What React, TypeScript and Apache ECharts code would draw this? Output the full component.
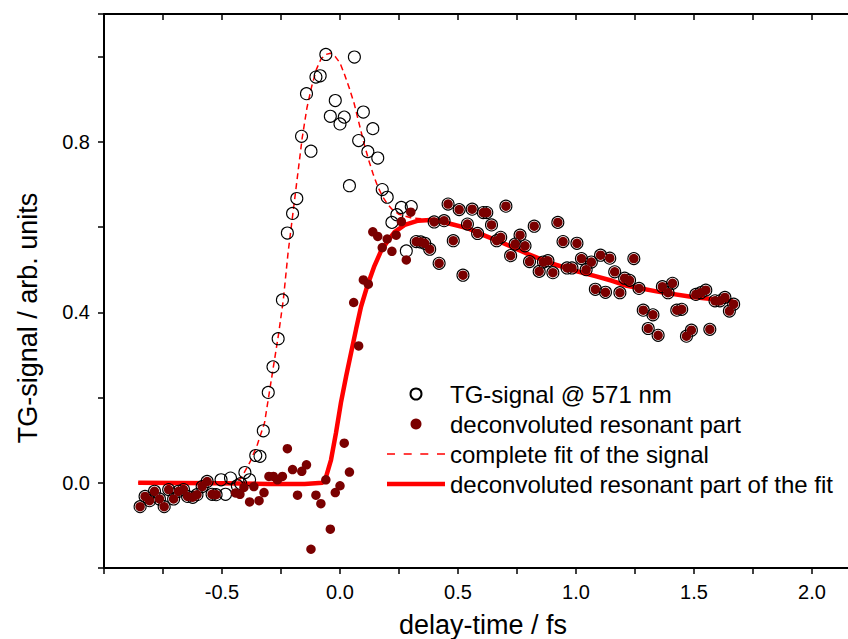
import React, { useEffect, useRef } from "react";
import * as echarts from "echarts";

// ---- data (x = delay-time / fs, y = signal) ----
const commonLeft: number[][] = [
  [-0.847, -0.056], [-0.826, -0.032], [-0.807, -0.042], [-0.786, -0.02], [-0.765, -0.038],
  [-0.745, -0.056], [-0.726, -0.016], [-0.705, -0.038], [-0.684, -0.02], [-0.663, -0.016],
  [-0.646, -0.032], [-0.624, -0.034], [-0.606, -0.028], [-0.584, -0.009], [-0.563, 0.003],
  [-0.542, -0.027], [-0.525, -0.028],
];

const signalOnly: number[][] = [
  [-0.504, 0.007], [-0.485, -0.027], [-0.464, 0.011], [-0.435, -0.007], [-0.421, -0.002],
  [-0.403, 0.024], [-0.383, 0.007], [-0.357, 0.064], [-0.339, 0.062], [-0.325, 0.122],
  [-0.304, 0.212], [-0.284, 0.272], [-0.262, 0.338], [-0.244, 0.429], [-0.223, 0.586],
  [-0.201, 0.632], [-0.183, 0.667], [-0.163, 0.813], [-0.142, 0.913], [-0.123, 0.778],
  [-0.102, 0.952], [-0.084, 0.955], [-0.06, 1.005], [-0.041, 0.86], [-0.02, 0.897],
  [0.0, 0.842], [0.018, 0.858], [0.04, 0.697], [0.061, 0.999], [0.079, 0.803],
  [0.099, 0.87], [0.118, 0.777], [0.139, 0.831], [0.16, 0.762], [0.179, 0.688],
  [0.2, 0.67], [0.22, 0.611], [0.241, 0.629], [0.26, 0.646], [0.281, 0.544], [0.302, 0.648],
];

const deconvOnly: number[][] = [
  [-0.443, -0.024], [-0.424, -0.027], [-0.407, -0.011], [-0.383, -0.045], [-0.365, -0.009],
  [-0.343, -0.042], [-0.322, -0.023], [-0.301, 0.015], [-0.282, 0.015], [-0.265, 0.007],
  [-0.244, 0.015], [-0.223, 0.08], [-0.201, 0.031], [-0.18, -0.029], [-0.162, 0.027],
  [-0.142, 0.042], [-0.123, -0.156], [-0.102, -0.029], [-0.081, -0.049], [-0.06, 0.007],
  [-0.041, -0.109], [-0.02, -0.023], [0.0, -0.007], [0.018, 0.093], [0.04, 0.025],
  [0.058, 0.423], [0.079, 0.321], [0.099, 0.476], [0.12, 0.466], [0.139, 0.589],
  [0.16, 0.578], [0.179, 0.552], [0.2, 0.572], [0.22, 0.543], [0.238, 0.581],
  [0.26, 0.613], [0.281, 0.523], [0.3, 0.635],
];

const commonRight: number[][] = [
  [0.323, 0.566], [0.342, 0.565], [0.359, 0.562], [0.38, 0.548], [0.399, 0.612],
  [0.42, 0.515], [0.441, 0.615], [0.458, 0.654], [0.48, 0.568], [0.505, 0.641],
  [0.521, 0.487], [0.54, 0.607], [0.56, 0.642], [0.583, 0.585], [0.607, 0.634],
  [0.622, 0.634], [0.642, 0.605], [0.664, 0.568], [0.681, 0.576], [0.703, 0.649],
  [0.723, 0.533], [0.742, 0.56], [0.763, 0.581], [0.784, 0.556], [0.803, 0.519],
  [0.823, 0.602], [0.844, 0.496], [0.862, 0.518], [0.881, 0.521], [0.902, 0.493],
  [0.923, 0.611], [0.945, 0.566], [0.962, 0.504], [0.983, 0.504], [1.004, 0.562],
  [1.023, 0.526], [1.043, 0.5], [1.065, 0.518], [1.082, 0.454], [1.104, 0.534],
  [1.125, 0.447], [1.143, 0.527], [1.164, 0.495], [1.186, 0.446], [1.206, 0.48],
  [1.227, 0.475], [1.245, 0.526], [1.267, 0.456], [1.285, 0.405], [1.306, 0.362],
  [1.326, 0.394], [1.348, 0.346], [1.366, 0.46], [1.39, 0.446], [1.409, 0.468],
  [1.427, 0.405], [1.448, 0.407], [1.468, 0.344], [1.489, 0.358], [1.508, 0.442],
  [1.529, 0.446], [1.55, 0.452], [1.567, 0.36], [1.589, 0.427], [1.61, 0.427],
  [1.631, 0.435], [1.65, 0.403], [1.668, 0.419],
];

const resonantFit: number[][] = [
  [-0.855, 0.0], [-0.5, -0.001], [-0.3, -0.003], [-0.15, -0.003], [-0.074, 0.0],
  [-0.06, 0.012], [-0.038, 0.054], [-0.017, 0.117], [0.004, 0.188], [0.026, 0.25],
  [0.047, 0.305], [0.068, 0.36], [0.089, 0.413], [0.118, 0.466], [0.146, 0.509],
  [0.174, 0.544], [0.203, 0.568], [0.231, 0.588], [0.274, 0.605], [0.331, 0.615],
  [0.4, 0.617], [0.458, 0.609], [0.543, 0.597], [0.6, 0.583], [0.685, 0.564],
  [0.8, 0.536], [0.9, 0.514], [1.0, 0.497], [1.082, 0.485], [1.153, 0.474],
  [1.21, 0.463], [1.352, 0.448], [1.494, 0.436], [1.664, 0.426],
];

const completeFit: number[][] = [
  [-0.855, 0.0], [-0.5, 0.0], [-0.45, 0.002], [-0.42, 0.01], [-0.38, 0.05],
  [-0.35, 0.09], [-0.32, 0.14], [-0.3, 0.21], [-0.28, 0.28], [-0.26, 0.35],
  [-0.24, 0.43], [-0.22, 0.54], [-0.2, 0.63], [-0.18, 0.72], [-0.16, 0.81],
  [-0.14, 0.88], [-0.12, 0.93], [-0.1, 0.97], [-0.08, 0.995], [-0.06, 1.005],
  [-0.04, 1.008], [-0.02, 1.0], [0.0, 0.985], [0.02, 0.957], [0.04, 0.925],
  [0.06, 0.89], [0.08, 0.845], [0.1, 0.8], [0.12, 0.76], [0.14, 0.725],
  [0.16, 0.695], [0.18, 0.672], [0.2, 0.655], [0.22, 0.642], [0.25, 0.63],
  [0.3, 0.622], [0.35, 0.619], [0.4, 0.617], [0.458, 0.609], [0.543, 0.597],
  [0.6, 0.583], [0.685, 0.564], [0.8, 0.536], [0.9, 0.514], [1.0, 0.497],
  [1.082, 0.485], [1.153, 0.474], [1.21, 0.463], [1.352, 0.448], [1.494, 0.436],
  [1.664, 0.426],
];

const seriesNames = [
  "TG-signal @ 571 nm",
  "deconvoluted resonant part",
  "complete fit of the signal",
  "deconvoluted resonant part of the fit",
];
const xTitle = "delay-time / fs";
const yTitle = "TG-signal / arb. units";

const FONT = "'Liberation Sans', Arial, Helvetica, sans-serif";

const DASH_ICON =
  "path://M0,0H8V1.5H0Z M16.7,0H24.7V1.5H16.7Z M33.3,0H41.3V1.5H33.3Z M50,0H58V1.5H50Z";
const SOLID_ICON = "path://M0,0H58V4.5H0Z";

const isMultiple = (v: number, step: number) =>
  Math.abs(v / step - Math.round(v / step)) < 1e-6;

export default function App() {
  const ref = useRef<HTMLDivElement>(null);

  useEffect(() => {
    if (!ref.current) return;
    const chart = echarts.init(ref.current, undefined, { renderer: "svg" });

    const axisLine = { show: true, onZero: false, lineStyle: { color: "#000", width: 2 } };

    chart.setOption({
      animation: false,
      backgroundColor: "#ffffff",
      grid: {
        left: 104,
        right: -23,
        top: 14,
        bottom: 71,
        containLabel: false,
        outerBoundsMode: "none",
      },
      legend: {
        orient: "vertical",
        left: 387,
        top: 382,
        padding: 0,
        itemWidth: 58,
        itemHeight: 11,
        itemGap: 6,
        symbolKeepAspect: true,
        textStyle: { fontSize: 24, fontFamily: FONT, color: "#000", lineHeight: 24 },
        data: [
          { name: seriesNames[0] },
          { name: seriesNames[1] },
          { name: seriesNames[2], icon: DASH_ICON },
          { name: seriesNames[3], icon: SOLID_ICON },
        ],
      },
      xAxis: [
        {
          type: "value",
          position: "bottom",
          min: -1,
          max: 2.25,
          interval: 0.25,
          axisLine,
          axisTick: { show: true, inside: false, length: 6, lineStyle: { color: "#000", width: 1.5 } },
          axisLabel: {
            margin: 14,
            fontSize: 20,
            fontFamily: FONT,
            color: "#000",
            formatter: (v: number) => (isMultiple(v, 0.5) && v > -0.99 ? v.toFixed(1) : ""),
          },
          splitLine: { show: false },
        },
        {
          type: "value",
          position: "top",
          min: -1,
          max: 2.25,
          interval: 0.25,
          axisLine,
          axisTick: { show: true, inside: true, length: 6, lineStyle: { color: "#000", width: 1.5 } },
          axisLabel: { show: false },
          splitLine: { show: false },
        },
      ],
      yAxis: {
        type: "value",
        min: -0.2,
        max: 1.1,
        interval: 0.2,
        axisLine,
        axisTick: { show: true, inside: false, length: 6, lineStyle: { color: "#000", width: 1.5 } },
        axisLabel: {
          margin: 14,
          fontSize: 20,
          fontFamily: FONT,
          color: "#000",
          formatter: (v: number) => (isMultiple(v, 0.4) && v > -0.01 && v < 1.05 ? v.toFixed(1) : ""),
        },
        splitLine: { show: false },
      },
      graphic: [
        {
          type: "text",
          x: 483,
          y: 625,
          style: {
            text: xTitle,
            fontSize: 27,
            fontFamily: FONT,
            fill: "#000",
            align: "center",
            verticalAlign: "middle",
          },
        },
        {
          type: "text",
          x: 28,
          y: 318,
          rotation: Math.PI / 2,
          style: {
            text: yTitle,
            fontSize: 27,
            fontFamily: FONT,
            fill: "#000",
            align: "center",
            verticalAlign: "middle",
          },
        },
      ],
      series: [
        {
          name: seriesNames[2],
          type: "line",
          data: completeFit,
          symbol: "none",
          lineStyle: { color: "#ff0000", width: 1.5, type: [6, 4] },
          itemStyle: { color: "#ff0000" },
          z: 2,
        },
        {
          name: seriesNames[3],
          type: "line",
          data: resonantFit,
          symbol: "none",
          lineStyle: { color: "#ff0000", width: 4.5 },
          itemStyle: { color: "#ff0000" },
          z: 3,
        },
        {
          name: seriesNames[0],
          type: "scatter",
          data: [...commonLeft, ...signalOnly, ...commonRight],
          symbol: "circle",
          symbolSize: 12,
          itemStyle: { color: "rgba(255,255,255,0)", borderColor: "#000", borderWidth: 1.1, opacity: 1 },
          z: 4,
        },
        {
          name: seriesNames[1],
          type: "scatter",
          data: [...commonLeft, ...deconvOnly, ...commonRight],
          symbol: "circle",
          symbolSize: 9.5,
          itemStyle: { color: "#7a0000", opacity: 1 },
          z: 5,
        },
      ],
    });

    return () => chart.dispose();
  }, []);

  return (
    <div
      ref={ref}
      style={{ position: "absolute", left: 0, top: 0, width: 848, height: 639 }}
    />
  );
}
